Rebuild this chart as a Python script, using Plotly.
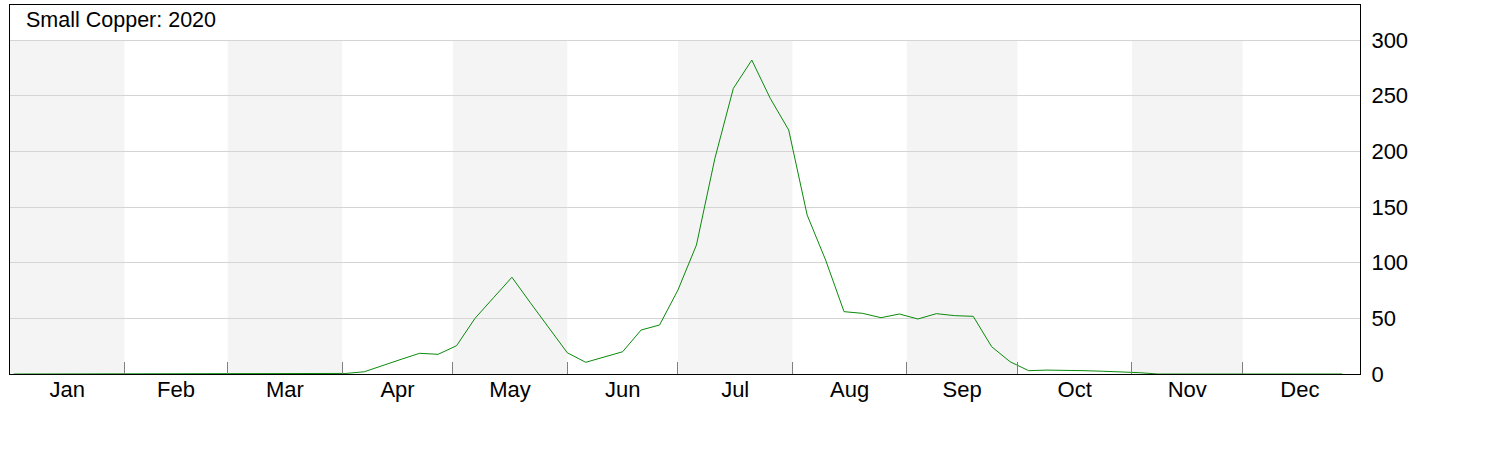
import plotly.graph_objects as go

# ---- data ----
title_text = "Small Copper: 2020"
months = ["Jan", "Feb", "Mar", "Apr", "May", "Jun",
          "Jul", "Aug", "Sep", "Oct", "Nov", "Dec"]
days_in_month = [31, 28, 31, 30, 31, 30, 31, 31, 30, 31, 30, 31]

# counts at 5-day intervals through the year (day of year 1, 6, 11, ...)
counts = [
    0, 0, 0, 0, 0, 0, 0, 0, 0, 0,          # Jan - mid Feb
    0, 0, 0, 0, 0, 0, 0, 0,                # mid Feb - end Mar
    0.5, 2, 7.8, 13.2, 18.6, 17.7, 25.4,   # Apr
    50.0, 68.5, 86.9, 64, 41, 19.1,        # May
    10.5, 15, 20.0, 39.5, 44.0, 75.5,      # Jun
    115.9, 193.7, 256.6, 282.0, 247.6, 219.2,  # Jul
    142.8, 102.4, 56.0, 54.5, 50.6, 53.9,  # Aug
    49.4, 54.2, 52.4, 51.8, 24.5, 11,      # Sep
    3, 3.5, 3.5, 3, 2.5, 2, 1.2,           # Oct
    0, 0, 0, 0, 0, 0, 0, 0, 0, 0, 0,       # Nov - Dec
]
interval_days = 5
day_of_year = [1 + interval_days * i for i in range(len(counts))]

y_ticks = [0, 50, 100, 150, 200, 250, 300]

# ---- derived axis helpers ----
bounds = [0]
for d in days_in_month:
    bounds.append(bounds[-1] + d)
mids = [(bounds[i] + bounds[i + 1]) / 2 for i in range(12)]

FONT = "Arial, 'Liberation Sans', sans-serif"

fig = go.Figure()
fig.add_trace(go.Scatter(
    x=day_of_year, y=counts, mode="lines",
    line=dict(color="#0a8a0a", width=1),
    hoverinfo="x+y", showlegend=False,
))

# alternating shaded month bands
for i in range(0, 12, 2):
    fig.add_shape(type="rect", xref="x", yref="y",
                  x0=bounds[i], x1=bounds[i + 1], y0=0, y1=y_ticks[-1],
                  fillcolor="#f4f4f4", line=dict(width=0), layer="below")

fig.add_annotation(text=title_text, xref="paper", yref="paper",
                   x=0.0105, y=0.96, xanchor="left", yanchor="middle",
                   showarrow=False, font=dict(family=FONT, size=21.5, color="black"))

fig.update_layout(
    width=1512, height=462,
    margin=dict(l=10, r=152, t=5, b=88),
    paper_bgcolor="white", plot_bgcolor="white",
    font=dict(family=FONT, size=22, color="black"),
    xaxis=dict(
        range=[0, 365.8], tickmode="array", tickvals=mids, ticktext=months,
        ticks="", showgrid=False, zeroline=False,
        showline=True, linecolor="black", linewidth=1, mirror=True,
        ticklabelstandoff=-4,
        minor=dict(tickmode="array", tickvals=bounds[1:12], ticks="inside",
                   ticklen=12, tickcolor="#808080", tickwidth=1, showgrid=False),
    ),
    yaxis=dict(
        range=[0, 331.5], side="right", tickmode="array", tickvals=y_ticks,
        ticks="", showgrid=True, gridcolor="#d4d4d4", gridwidth=1,
        zeroline=False, showline=True, linecolor="black", linewidth=1,
        mirror=True, ticklabelstandoff=6,
    ),
)

fig.write_html("out.html", config={"displayModeBar": False},
               post_script="document.body.style.margin='0';")
